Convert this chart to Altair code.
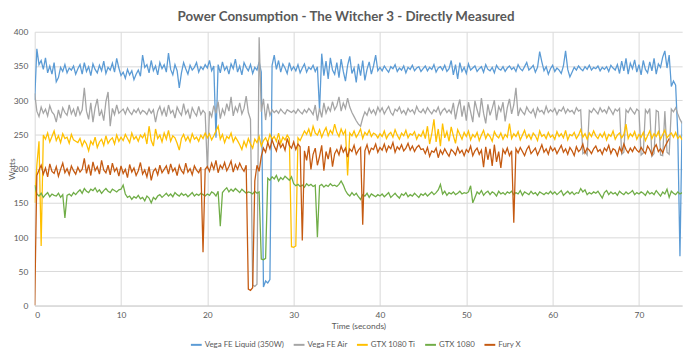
import altair as alt
import pandas as pd

series_names = ["Vega FE Liquid (350W)", "Vega FE Air", "GTX 1080 Ti", "GTX 1080", "Fury X"]
series_colors = ["#5B9BD5", "#A5A5A5", "#FFC000", "#70AD47", "#C55A11"]
chart_title = "Power Consumption - The Witcher 3 - Directly Measured"

step_s = 0.25  # sampling step of the readings below (t = 0 .. 75 s)

vega_fe_liquid = [
    300, 375, 352, 358, 345, 362, 340, 350, 338, 355, 327, 333, 348, 342, 352, 340, 347, 344, 350, 338,
    346, 352, 338, 355, 342, 349, 336, 353, 345, 340, 351, 343, 357, 339, 348, 344, 354, 341, 361, 347,
    336, 341, 332, 345, 337, 343, 330, 338, 344, 335, 366, 348, 352, 340, 358, 343, 350, 337, 355, 346,
    352, 341, 369, 345, 337, 352, 343, 318, 340, 355, 346, 338, 351, 344, 348, 355, 341, 349, 345, 352,
    347, 358, 343, 350, 245, 352, 340, 356, 344, 349, 338, 353, 346, 360, 341, 350, 337, 355, 348, 343,
    352, 339, 348, 344, 356, 341, 27, 36, 33, 38, 351, 366, 345, 358, 341, 353, 347, 339, 355, 344,
    349, 343, 352, 340, 347, 353, 341, 348, 345, 351, 342, 349, 285, 368, 336, 357, 331, 362, 344, 338,
    355, 333, 360, 342, 328, 351, 364, 339, 347, 326, 353, 336, 358, 329, 345, 356, 338, 350, 366, 343,
    348, 343, 350, 345, 341, 349, 346, 352, 342, 347, 344, 350, 340, 348, 345, 351, 343, 347, 349, 342,
    346, 350, 343, 348, 345, 352, 341, 347, 349, 344, 351, 342, 346, 358, 337, 352, 331, 355, 342, 348,
    339, 353, 344, 347, 350, 342, 346, 349, 341, 352, 345, 343, 348, 340, 351, 346, 344, 349, 342, 347,
    350, 345, 348, 342, 352, 346, 343, 349, 355, 344, 347, 351, 341, 348, 371, 356, 343, 349, 338, 346,
    351, 342, 347, 344, 339, 350, 372, 345, 334, 341, 348, 344, 350, 346, 343, 349, 345, 351, 344, 348,
    346, 350, 343, 348, 345, 349, 342, 351, 347, 344, 352, 339, 357, 343, 361, 338, 354, 346, 359, 341,
    352, 337, 358, 345, 340, 356, 343, 361, 338, 353, 348, 363, 372, 347, 366, 320, 328, 322, 250, 72,
    270,
]

vega_fe_air = [
    310, 284, 276, 290, 281, 287, 277, 292, 283, 279, 268, 286, 274, 289, 282, 278, 293, 280, 287, 276,
    291, 279, 286, 318, 284, 272, 296, 268, 289, 302, 277, 285, 270, 298, 312, 262, 288, 279, 293, 281,
    284, 287, 280, 289, 283, 279, 286, 282, 288, 280, 285, 283, 279, 287, 281, 286, 268, 284, 291, 279,
    288, 276, 293, 281, 285, 274, 290, 283, 278, 295, 280, 286, 273, 289, 282, 277, 291, 279, 285, 281,
    200, 284, 276, 292, 281, 298, 273, 287, 279, 295, 284, 305, 277, 290, 283, 296, 280, 288, 306, 282,
    272, 30, 28, 31, 392, 283, 302, 271, 295, 278, 286, 282, 285, 281, 287, 283, 280, 286, 284, 282,
    285, 281, 287, 283, 280, 286, 282, 288, 284, 279, 293, 270, 288, 275, 296, 281, 290, 284, 298, 286,
    292, 305, 284, 296, 288, 303, 290, 282, 276, 270, 265, 262, 274, 283, 278, 288, 281, 286, 279, 290,
    283, 289, 280, 286, 291, 282, 278, 287, 284, 290, 281, 285, 279, 288, 283, 286, 280, 291, 284, 282,
    287, 281, 289, 284, 280, 286, 283, 290, 279, 285, 288, 282, 286, 281, 296, 272, 289, 301, 276, 292,
    270, 297, 283, 268, 299, 286, 275, 303, 281, 266, 294, 278, 288, 300, 271, 291, 284, 297, 269, 289,
    302, 280, 293, 318, 277, 288, 283, 279, 290, 284, 281, 287, 276, 289, 283, 285, 280, 291, 282, 286,
    283, 288, 279, 286, 284, 290, 281, 287, 283, 285, 280, 289, 284, 286, 222, 225, 220, 285, 282, 288,
    284, 280, 289, 283, 286, 281, 290, 285, 279, 287, 284, 288, 221, 224, 286, 282, 289, 284, 280, 287,
    284, 220, 223, 286, 281, 288, 218, 222, 285, 283, 220, 219, 284, 224, 221, 287, 283, 289, 280, 272,
    266,
]

gtx_1080_ti = [
    150, 205, 240, 87, 249, 243, 252, 239, 247, 255, 241, 248, 238, 251, 244, 246, 237, 250, 242, 240,
    238, 244, 233, 241, 236, 226, 240, 235, 246, 231, 239, 243, 234, 248, 237, 242, 245, 236, 249, 240,
    246, 241, 250, 244, 238, 252, 243, 247, 240, 249, 245, 251, 236, 262, 241, 233, 258, 244, 249, 239,
    252, 243, 256, 240, 248, 245, 237, 227, 244, 250, 241, 247, 239, 251, 243, 246, 240, 249, 244, 252,
    245, 251, 242, 248, 255, 262, 243, 250, 238, 247, 244, 252, 239, 246, 241, 235, 228, 240, 232, 244,
    236, 230, 243, 238, 247, 233, 241, 245, 238, 250, 243, 247, 240, 252, 237, 246, 242, 249, 244, 86,
    85, 87, 245, 241, 248, 255, 250, 258, 247, 262, 252, 249, 257, 246, 254, 260, 248, 256, 251, 265,
    253, 247, 258, 250, 256, 190, 252, 248, 255, 246, 251, 258, 244, 253, 249, 256, 247, 252, 250, 245,
    251, 247, 255, 244, 250, 253, 246, 257, 249, 243, 252, 248, 256, 245, 251, 249, 254, 243, 250, 247,
    255, 244, 262, 236, 251, 272, 239, 258, 233, 266, 245, 254, 240, 261, 248, 237, 257, 250, 243, 253,
    247, 255, 242, 250, 246, 253, 241, 249, 256, 244, 251, 247, 240, 254, 248, 245, 252, 243, 250, 246,
    266, 244, 251, 247, 254, 242, 249, 256, 245, 250, 243, 252, 248, 241, 255, 247, 250, 244, 253, 246,
    249, 243, 254, 247, 251, 245, 256, 242, 250, 248, 253, 244, 249, 257, 246, 251, 243, 252, 247, 255,
    248, 244, 251, 246, 253, 242, 250, 247, 255, 243, 249, 252, 245, 250, 265, 244, 251, 247, 254, 243,
    250, 246, 253, 241, 248, 255, 244, 251, 247, 254, 243, 250, 256, 245, 249, 252, 246, 253, 244, 248,
    242,
]

gtx_1080 = [
    176, 163, 160, 164, 158, 162, 165, 159, 163, 161, 160, 164, 158, 162, 128, 161, 163, 160, 165, 162,
    166, 169, 164, 171, 167, 165, 170, 168, 172, 166, 169, 164, 168, 171, 167, 165, 170, 168, 166, 169,
    170, 176, 163, 158, 160, 155, 159, 157, 161, 156, 158, 153, 160, 157, 150, 158, 155, 160, 162, 158,
    161, 164, 160, 163, 159, 165, 162, 160, 164, 161, 163, 159, 162, 165, 160, 163, 161, 164, 162, 160,
    163, 161, 166, 164, 160, 167, 116, 165, 169, 172, 166, 170, 167, 171, 168, 165, 170, 167, 164, 166,
    165, 163, 167, 164, 166, 68, 67, 69, 186, 183, 188, 185, 190, 182, 187, 184, 189, 186, 183, 188,
    178, 175, 177, 174, 176, 173, 178, 175, 177, 174, 176, 100, 175, 177, 173, 176, 174, 178, 175, 176,
    174, 177, 182, 176, 168, 163, 160, 165, 161, 164, 159, 155, 162, 160, 164, 158, 163, 161, 159, 162,
    160, 163, 159, 162, 165, 158, 161, 164, 160, 157, 163, 161, 165, 159, 162, 160, 164, 161, 158, 163,
    161, 164, 160, 163, 166, 162, 165, 169, 177, 163, 167, 161, 165, 163, 166, 162, 164, 167, 163, 165,
    164, 166, 175, 150, 158, 166, 163, 168, 161, 165, 167, 162, 166, 164, 160, 167, 163, 165, 162, 166,
    164, 167, 162, 165, 163, 168, 161, 166, 164, 162, 167, 163, 165, 161, 166, 164, 162, 165, 163, 167,
    163, 166, 162, 165, 168, 161, 164, 167, 163, 166, 162, 165, 164, 171, 166, 169, 162, 165, 163, 166,
    164, 167, 162, 157, 165, 168, 162, 166, 163, 165, 161, 167, 164, 162, 166, 163, 165, 168, 162, 165,
    163, 166, 164, 161, 167, 163, 165, 162, 168, 164, 160, 166, 163, 170, 158, 167, 164, 162, 166, 163,
    165,
]

fury_x = [
    0, 190, 198, 205, 192, 201, 188, 207, 196, 193, 203, 189, 199, 208, 194, 200, 191, 204, 197, 192,
    202, 195, 199, 215, 193, 206, 190, 210, 197, 203, 192, 212, 198, 194, 205, 191, 208, 196, 201, 189,
    204, 193, 199, 187, 206, 195, 201, 190, 197, 209, 192, 198, 188, 203, 183, 196, 200, 191, 205, 194,
    199, 204, 192, 207, 196, 201, 190, 205, 197, 193, 208, 195, 200, 191, 204, 198, 194, 202, 78, 199,
    203, 196, 208, 199, 212, 194, 205, 200, 209, 197, 203, 211, 195, 206, 199, 208, 201, 196, 205, 24,
    22, 26, 182, 205, 196, 218, 230, 224, 238, 229, 242, 233, 226, 240, 231, 236, 227, 244, 234, 230,
    239, 228, 236, 232, 95, 226, 212, 233, 199, 221, 230, 205, 218, 234, 197, 225, 214, 231, 203, 222,
    228, 220, 233, 224, 230, 217, 229, 225, 234, 221, 227, 231, 118, 226, 235, 222, 230, 228, 236, 224,
    231, 227, 236, 225, 233, 229, 238, 224, 232, 228, 235, 226, 230, 237, 227, 233, 225, 231, 234, 228,
    229, 222, 231, 218, 226, 224, 230, 216, 227, 221, 229, 223, 218, 228, 225, 220, 231, 223, 227, 219,
    228, 224, 233, 219, 226, 230, 221, 227, 202, 232, 213, 229, 204, 235, 210, 225, 201, 228, 222, 230,
    219, 226, 121, 229, 223, 231, 225, 219, 228, 233, 222, 226, 230, 220, 227, 235, 224, 229, 221, 232,
    226, 230, 222, 228, 234, 224, 229, 221, 231, 226, 219, 232, 225, 228, 236, 223, 230, 227, 222, 229,
    233, 225, 228, 221, 230, 226, 234, 222, 229, 227, 219, 231, 224, 236, 228, 223, 230, 225, 232, 227,
    224, 231, 226, 222, 233, 228, 220, 230, 235, 225, 229, 223, 232, 238, 244, None, None, None, None, None,
    None,
]

x_ticks = [0, 10, 20, 30, 40, 50, 60, 70]
y_ticks = [0, 50, 100, 150, 200, 250, 300, 350, 400]

all_series = [vega_fe_liquid, vega_fe_air, gtx_1080_ti, gtx_1080, fury_x]
rows = []
for order, (name, vals) in enumerate(zip(series_names, all_series)):
    for i, v in enumerate(vals):
        if v is None:
            continue
        rows.append({"series": name, "order": order, "time": i * step_s, "watts": v})
df = pd.DataFrame(rows)

FONT = "Lato"
TXT = "#595959"

color_scale = alt.Scale(domain=series_names, range=series_colors)

lines = alt.Chart(df).mark_line(strokeWidth=1.3, clip=True).encode(
    x=alt.X("time:Q",
            scale=alt.Scale(domain=[0, 75], nice=False, zero=False),
            axis=alt.Axis(values=x_ticks, title="Time (seconds)", grid=True,
                          gridColor="#D9D9D9", domain=True, domainColor="#D0D0D0",
                          ticks=False, labelPadding=5, labelFontSize=8.5, labelColor=TXT,
                          titleFontSize=8.5, titleColor=TXT, titleFontWeight="normal",
                          titleX=327.5, titleY=20, titleBaseline="middle")),
    y=alt.Y("watts:Q",
            scale=alt.Scale(domain=[0, 400], nice=False),
            axis=alt.Axis(values=y_ticks, title="Watts", grid=True, gridColor="#D9D9D9",
                          domain=False, ticks=False, labelPadding=7, labelFontSize=8.5,
                          labelColor=TXT, titleFontSize=8.5, titleColor=TXT,
                          titleFontWeight="normal", titleX=-23, titleY=138.5,
                          titleAngle=-90, titleAlign="center", titleBaseline="middle")),
    color=alt.Color("series:N", scale=color_scale,
                    legend=alt.Legend(title=None, orient="none", legendX=157, legendY=310,
                                      direction="horizontal", symbolType="stroke",
                                      symbolStrokeWidth=2, symbolSize=120, labelFontSize=8,
                                      labelColor=TXT, labelOffset=2, columnPadding=5)),
    detail="order:N",
    order="time:Q",
)

title_df = pd.DataFrame({"label": [chart_title]})
title_text = alt.Chart(title_df).mark_text(
    align="center", baseline="alphabetic", fontSize=13.5, fontWeight="bold",
    color=TXT, font=FONT,
).encode(
    x=alt.value(315),
    y=alt.value(-11),
    text="label:N",
)

chart = alt.layer(lines, title_text).properties(
    width=655,
    height=277,
    autosize=alt.AutoSizeParams(type="none"),
    padding={"left": 27, "top": 22, "right": 10, "bottom": 49},
).configure(font=FONT).configure_view(stroke=None).configure_axis(
    labelFont=FONT, titleFont=FONT
).configure_legend(labelFont=FONT)

chart.save("out.html", embed_options={"renderer": "svg", "actions": False})
